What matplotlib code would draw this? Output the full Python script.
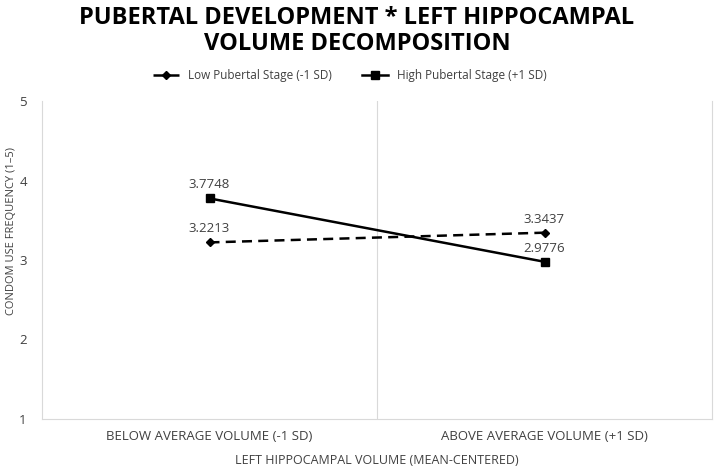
import matplotlib.pyplot as plt

# data
categories = ['BELOW AVERAGE VOLUME (-1 SD)', 'ABOVE AVERAGE VOLUME (+1 SD)']
low_stage = [3.2213, 3.3437]
high_stage = [3.7748, 2.9776]
yticks = [1, 2, 3, 4, 5]

plt.rcParams['font.family'] = ['Open Sans', 'DejaVu Sans']

fig = plt.figure(figsize=(7.14, 4.68), dpi=100)
ax = fig.add_axes([42 / 714, 1 - 419 / 468, 670 / 714, 318 / 468])

xpos = [0.5, 1.5]
ax.plot(xpos, low_stage, color='black', linestyle=(0, (4, 2.5)), linewidth=1.8,
        marker='D', markersize=4, label='Low Pubertal Stage (-1 SD)')
ax.plot(xpos, high_stage, color='black', linewidth=1.8,
        marker='s', markersize=6, label='High Pubertal Stage (+1 SD)')

for x, v in zip(xpos, low_stage):
    ax.annotate(f'{v:.4f}', (x, v), xytext=(0, 5), textcoords='offset points',
                ha='center', va='bottom', fontsize=9.5, color='#404040')
for x, v in zip(xpos, high_stage):
    ax.annotate(f'{v:.4f}', (x, v), xytext=(0, 5), textcoords='offset points',
                ha='center', va='bottom', fontsize=9.5, color='#404040')

ax.set_xlim(0, 2)
ax.set_ylim(1, 5)
ax.set_yticks(yticks)
ax.set_xticks(xpos)
ax.set_xticklabels(categories, fontsize=9.5, color='#404040')
ax.tick_params(axis='y', labelsize=9.5, labelcolor='#404040', length=0, pad=11)
ax.tick_params(axis='x', length=0, pad=8)
ax.axvline(1, color='#d9d9d9', linewidth=0.8, zorder=0)

ax.spines['top'].set_visible(False)
ax.spines['left'].set_color('#d9d9d9')
ax.spines['right'].set_color('#d9d9d9')
ax.spines['bottom'].set_color('#d9d9d9')

ax.set_xlabel('LEFT HIPPOCAMPAL VOLUME (MEAN-CENTERED)', fontsize=9, color='#404040', labelpad=8)
ax.set_ylabel('CONDOM USE FREQUENCY (1–5)', fontsize=8, color='#404040')
ax.yaxis.set_label_coords(-0.037, 0.59)

fig.text(0.5, 1 - 18 / 468, 'PUBERTAL DEVELOPMENT * LEFT HIPPOCAMPAL', ha='center', va='center',
         fontsize=17, fontweight='bold')
fig.text(0.5, 1 - 44 / 468, 'VOLUME DECOMPOSITION', ha='center', va='center',
         fontsize=17, fontweight='bold')
fig.legend(loc='center', bbox_to_anchor=(350 / 714, 1 - 76 / 468), ncol=2, frameon=False,
           fontsize=8.5, labelcolor='#404040', handlelength=2.2, columnspacing=2.5,
           numpoints=1)

fig.savefig('out.png', dpi=100)
